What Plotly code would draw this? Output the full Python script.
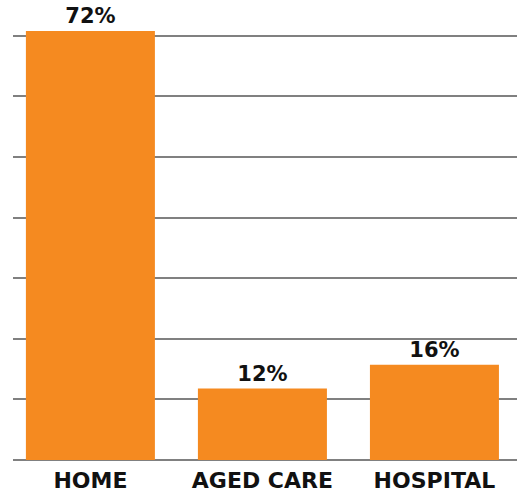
import plotly.graph_objects as go

categories = ["HOME", "AGED CARE", "HOSPITAL"]
values = [72, 12, 16]
labels = ["72%", "12%", "16%"]

fig = go.Figure(
    go.Bar(
        x=categories,
        y=values,
        text=labels,
        textposition="outside",
        cliponaxis=False,
        marker=dict(color="#F58A20", line=dict(width=0)),
        textfont=dict(family="DejaVu Sans", size=21, color="#111111", weight="bold"),
        hoverinfo="skip",
    )
)

fig.update_layout(
    width=517,
    height=495,
    margin=dict(l=13, r=0, t=0, b=35),
    paper_bgcolor="white",
    plot_bgcolor="white",
    bargap=0.25,
    showlegend=False,
    font=dict(family="DejaVu Sans", size=21, color="#111111"),
)
fig.update_xaxes(
    type="category",
    range=[-0.45, 2.48],
    showgrid=False,
    showline=False,
    ticks="",
    ticklabelstandoff=5,
    tickfont=dict(family="DejaVu Sans", size=22, color="#111111", weight="bold"),
)
fig.update_yaxes(
    range=[0, 77.2],
    tick0=0,
    dtick=10.17,
    showgrid=True,
    gridcolor="#808080",
    gridwidth=2,
    zeroline=True,
    zerolinecolor="#808080",
    zerolinewidth=2,
    showticklabels=False,
    ticks="",
)

fig.write_html(
    "out.html",
    config={"displayModeBar": False, "staticPlot": True},
    post_script="document.body.style.margin='0';document.documentElement.style.overflow='hidden';document.body.style.overflow='hidden';",
)
